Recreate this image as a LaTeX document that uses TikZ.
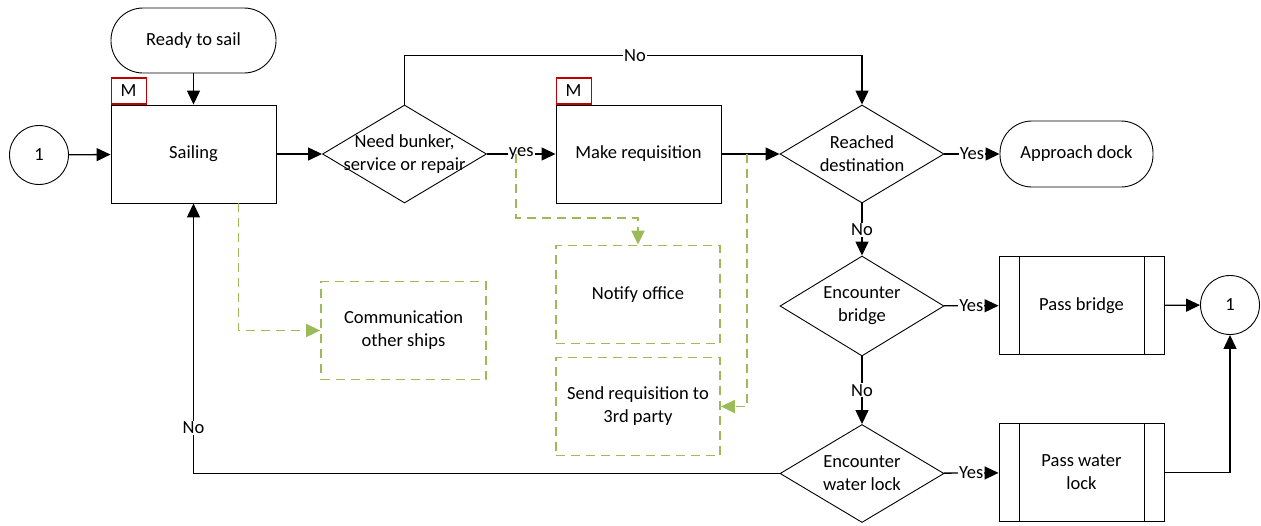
\documentclass[tikz,border=0pt]{standalone}
\usepackage{fontspec}
\setmainfont{Carlito}
\usepackage{tikz}
\usetikzlibrary{%
  arrows.meta,%
  shapes.geometric,% wg. diamond
  shapes.misc%
}

\definecolor{infogreen}{RGB}{155,187,89}
\definecolor{mred}{RGB}{192,0,0}

\begin{document}
\begin{tikzpicture}
    [   x=1pt, y=-1pt
    ,   >={Triangle[length=14pt,width=13pt]}
    ,   line width=1.3pt
    ,   font=\fontsize{18.5}{23}\selectfont
    ,   process/.style=
            {   % The shape:
                rectangle
            ,   minimum width=165pt
            ,   minimum height=98pt
            ,   % The rest
                draw
            ,   line width=0.9pt
            ,   align=center
            }
    ,   terminal/.style=
            {   process
            ,   minimum height=65pt
            ,   rounded corners=32pt
            }
    ,   decision/.style=
            {   diamond
            ,   draw
            ,   line width=0.9pt
            ,   inner sep=0pt
            ,   minimum width=164pt
            ,   minimum height=98pt
            }
    ,   subproc/.style=
            {   process
            ,   path picture=
                {   \draw[line width=0.9pt]
                        ([xshift=20pt]path picture bounding box.north west) --
                        ([xshift=20pt]path picture bounding box.south west)
                        ([xshift=-20pt]path picture bounding box.north east) --
                        ([xshift=-20pt]path picture bounding box.south east);
                }
            }
    ,   note/.style=
            {   process
            ,   draw=infogreen
            ,   line width=1.8pt
            ,   dash pattern=on 9pt off 6pt
            }
    ,   info/.style={draw=infogreen, line width=1.8pt, dash pattern=on 9pt off 6pt}
    ,   jump/.style={circle, draw, line width=0.9pt, minimum size=59pt, inner sep=0pt}
    ,   mflag/.style={draw=mred, line width=1.2pt, minimum width=35pt, minimum height=26pt, inner sep=0pt}
    ,   cond/.style={fill=white, inner sep=1pt}
    ]

    \useasboundingbox (0,0) rectangle (1261,525);

    % top row
    \node[terminal](ready) at (193.5,40.5) {Ready to sail};
    \node[process](sail) at (193.5,154) {Sailing};
    \node[jump](c1) at (39,155) {1};
    \node[decision, label={[align=center]center:{Need bunker,\\service or repair}}](need) at (404.5,154) {};
    \node[process](req) at (638.5,154) {Make requisition};
    \node[decision, label={[align=center]center:{Reached\\destination}}](reach) at (862,154) {};
    \node[terminal, minimum width=153pt, minimum height=66pt](dock) at (1076.5,154) {Approach dock};
    \node[mflag, anchor=south west](msail) at (sail.north west) {M};
    \node[mflag, anchor=south west](mreq) at (req.north west) {M};

    % bridge and water lock
    \node[decision, minimum height=100pt, label={[align=center]center:{Encounter\\bridge}}](bridge) at (862,306) {};
    \node[subproc](pbridge) at (1081.5,305.5) {Pass bridge};
    \node[jump](c2) at (1230,305) {1};
    \node[decision, label={[align=center]center:{Encounter\\water lock}}](wlock) at (862,473.5) {};
    \node[subproc](plock) at (1081.5,472.5) {Pass water\\lock};

    % information flow
    \node[note](comm) at (403.5,330.5) {Communication\\other ships};
    \node[note, minimum width=164pt](notify) at (638,294.5) {Notify office};
    \node[note, minimum width=164pt](send) at (638,406.5) {Send requisition to\\3rd party};

    \coordinate (yesfork) at (516,154);
    \coordinate (reqfork) at (747,154);

    \draw[->](ready)--(sail);
    \draw[->](c1)--(sail);
    \draw[->](sail)--(need);
    \draw[->](need)--(req) node[midway,cond]{yes};
    \draw[->](req)--(reach);
    \draw[->](need.north)--++(0,-49) -| (reach.north) node[pos=0.252,cond]{No};
    \draw[->](reach)--(dock) node[midway,cond]{Yes};
    \draw[->](reach)--(bridge) node[midway,cond]{No};
    \draw[->](bridge)--(pbridge) node[midway,cond]{Yes};
    \draw[->](pbridge)--(c2);
    \draw[->](bridge)--(wlock) node[midway,cond]{No};
    \draw[->](wlock)--(plock) node[midway,cond]{Yes};
    \draw[->](plock) -| (c2);
    \draw[->](wlock) -| (sail) node[pos=0.585,cond]{No};

    \draw[info,->]([xshift=45pt]sail.south) |- (comm);
    \draw[info,->](yesfork)--++(0,64) -| (notify);
    \draw[info,->](reqfork) |- (send);
\end{tikzpicture}
\end{document}
